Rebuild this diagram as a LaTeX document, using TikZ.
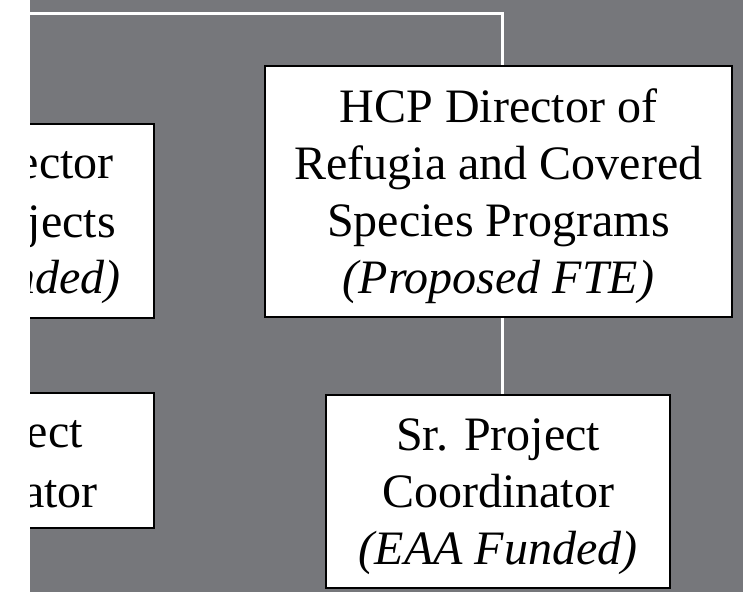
\documentclass[tikz,border=0pt]{standalone}
\usepackage{fontspec}
\setmainfont{Liberation Serif}
\definecolor{panelgray}{RGB}{118,119,123}
\tikzset{
  box/.style={draw=black, line width=1.5pt, fill=white, inner sep=0pt},
  txt/.style={font=\fontsize{48}{57}\selectfont, align=center, inner sep=0pt},
  link/.style={draw=white, line width=3pt}
}
\begin{document}
\begin{tikzpicture}[x=1pt,y=-1pt]
        \useasboundingbox (0,0) rectangle (743,592);
        % Panel %
        \fill[panelgray] (0,0) rectangle (743,592);
        % Boxes %
        \node[box, minimum width=160, minimum height=194] (dirproj) at (74,221) {};
        \node[box, minimum width=160, minimum height=135] (projcoord) at (74,460.5) {};
        \node[box, minimum width=467, minimum height=251] (hcp) at (498.5,191.5) {};
        \node[box, minimum width=344, minimum height=193] (srcoord) at (498,491.5) {};
        % Links %
        \coordinate (topleft) at (30,13.5);
        \draw[link] (topleft) -| ([xshift=3.5]hcp.north);
        \draw[link] ([xshift=3.5]hcp.south) -- ([xshift=3.5]hcp.south |- srcoord.north);
        % Texts %
        \node[txt] (hcptext) at (498.5,196) {HCP Director of\\Refugia and Covered\\Species Programs\\\textit{(Proposed FTE)}};
        \node[txt] (srtext) at (498,497) {Sr. Project\\Coordinator\\\textit{(EAA Funded)}};
        \node[txt, anchor=base east] (dirline1) at (114,178) {ector};
        \node[txt, anchor=base east] (dirline2) at (116,237) {jects};
        \node[txt, anchor=base east] (dirline3) at (121,293) {\textit{nded)}};
        \node[txt, anchor=base east] (projline1) at (83,447) {ect};
        \node[txt, anchor=base east] (projline2) at (98,507) {ator};
        % Margin %
        \fill[white] (0,0) rectangle (30,592);

      \end{tikzpicture}
\end{document}
